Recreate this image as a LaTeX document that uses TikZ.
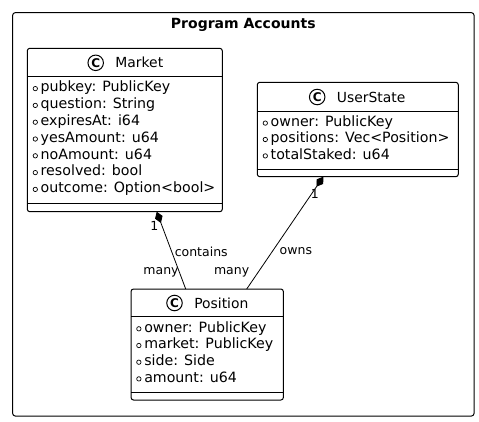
\documentclass[tikz,border=0pt]{standalone}
\usepackage{fontspec}
\setmainfont{DejaVu Sans}
\usetikzlibrary{arrows.meta, positioning}

\begin{document}
\begin{tikzpicture}[
  x=1pt, y=-1pt,
  every node/.style={inner sep=0pt, outer sep=0pt},
  classbox/.style={rectangle, draw, line width=1pt, rounded corners=2.5pt},
  classicon/.style={circle, draw, line width=1pt, minimum size=15.5pt,
              font=\fontsize{12}{12}\selectfont\bfseries},
  classname/.style={font=\fontsize{13.9}{16}\selectfont, anchor=west},
  attr/.style={font=\fontsize{14.2}{16}\selectfont, anchor=base west},
  role/.style={font=\fontsize{12.5}{14}\selectfont},
  link/.style={line width=0.8pt},
]
  \useasboundingbox (0,0) rectangle (479,421);

  % package frame
  \node[classbox, minimum width=461.3pt, minimum height=403.3pt] (pkg) at (243.35,214.35) {};
  \node[font=\fontsize{14}{16}\selectfont\bfseries, anchor=base] (pkgtitle) at (243.3,28) {Program Accounts};

  % Market
  \node[classbox, minimum width=195pt, minimum height=163.4pt] (market) at (124.8,130) {};
  \draw[line width=1pt] ([yshift=-27.7pt]market.north west) -- ([yshift=-27.7pt]market.north east);
  \draw[line width=1pt] ([yshift=8.4pt]market.south west) -- ([yshift=8.4pt]market.south east);
  \node[classicon] (marketC) at (95.7,62.8) {C};
  \node[classname, right=12pt of marketC] (marketname) {Market};
  \foreach \a [count=\i] in {pubkey: PublicKey, question: String, expiresAt: i64,
      yesAmount: u64, noAmount: u64, resolved: bool, outcome: Option<bool>} {
    \node[attr] (market-\i) at ([shift={(13.4,{43.5+(\i-1)*16.8})}]market.north west) {\a};
    \draw[line width=0.7pt] ([shift={(8,{40.3+(\i-1)*16.8})}]market.north west) circle[radius=2.2pt];
  }

  % UserState
  \node[classbox, minimum width=201pt, minimum height=94.4pt] (userstate) at (357.8,129.5) {};
  \draw[line width=1pt] ([yshift=-28.7pt]userstate.north west) -- ([yshift=-28.7pt]userstate.north east);
  \draw[line width=1pt] ([yshift=7.7pt]userstate.south west) -- ([yshift=7.7pt]userstate.south east);
  \node[classicon] (userstateC) at (317.2,97) {C};
  \node[classname, right=12pt of userstateC] (userstatename) {UserState};
  \foreach \a [count=\i] in {owner: PublicKey, positions: Vec<Position>, totalStaked: u64} {
    \node[attr] (userstate-\i) at ([shift={(13.4,{44+(\i-1)*16.4})}]userstate.north west) {\a};
    \draw[line width=0.7pt] ([shift={(8,{40.8+(\i-1)*16.4})}]userstate.north west) circle[radius=2.2pt];
  }

  % Position
  \node[classbox, minimum width=152.3pt, minimum height=111pt] (position) at (207.2,344.5) {};
  \draw[line width=1pt] ([yshift=-27.7pt]position.north west) -- ([yshift=-27.7pt]position.north east);
  \draw[line width=1pt] ([yshift=7.3pt]position.south west) -- ([yshift=7.3pt]position.south east);
  \node[classicon] (positionC) at (174.5,303) {C};
  \node[classname, right=12pt of positionC] (positionname) {Position};
  \foreach \a [count=\i] in {owner: PublicKey, market: PublicKey, side: Side, amount: u64} {
    \node[attr] (position-\i) at ([shift={(13.2,{43+(\i-1)*16.7})}]position.north west) {\a};
    \draw[line width=0.7pt] ([shift={(7.8,{39.8+(\i-1)*16.7})}]position.north west) circle[radius=2.2pt];
  }

  % relations
  \draw[link, {Diamond[length=12pt, width=8pt]}-]
    ([xshift=31.9pt]market.south)
    -- node[role, pos=0.19, left=4pt] (mkone) {1}
       node[role, pos=0.52, right=3pt] (contains) {contains}
       node[role, pos=0.79, left=1pt] (mkmany) {many}
    ([xshift=-21.5pt]position.north);
  \draw[link, {Diamond[length=12pt, width=8pt]}-]
    ([xshift=-34.5pt]userstate.south)
    -- node[role, pos=0.15, anchor=west, xshift=-1pt] (usone) {1}
       node[role, pos=0.66, right=7pt] (owns) {owns}
       node[role, pos=0.85, left=9pt] (usmany) {many}
    ([xshift=39.5pt]position.north);
\end{tikzpicture}
\end{document}
